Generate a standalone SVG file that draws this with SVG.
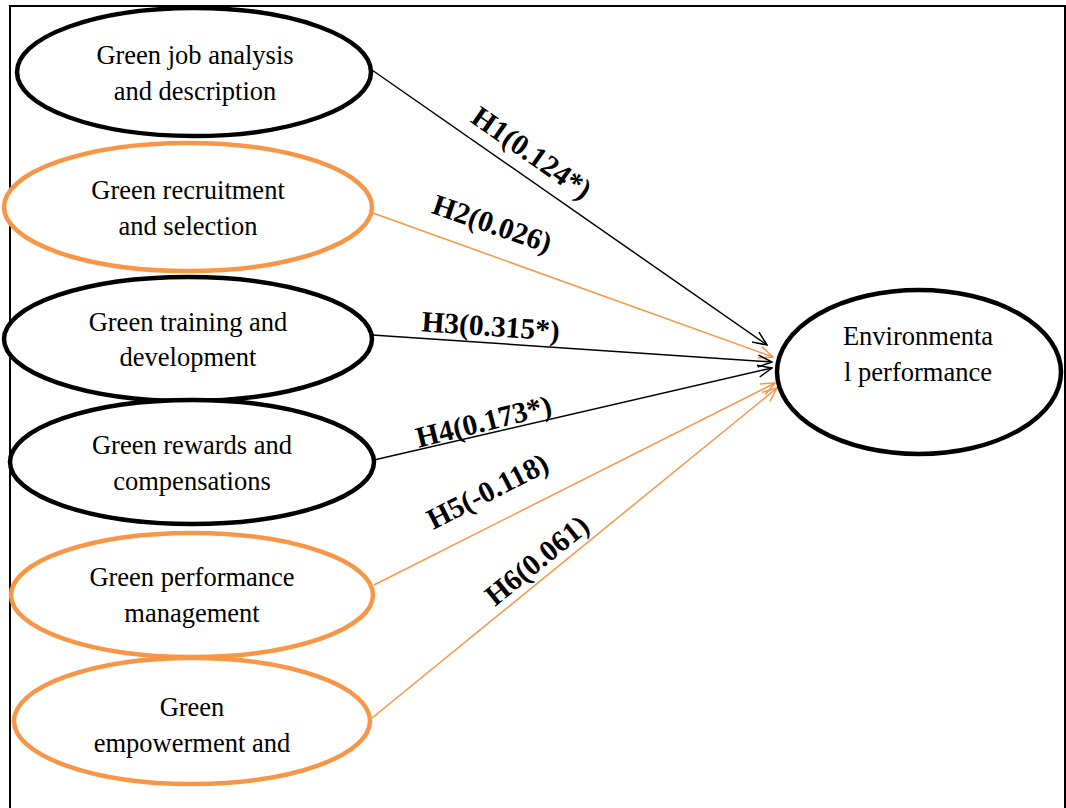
<svg xmlns="http://www.w3.org/2000/svg" width="1066" height="808" viewBox="0 0 1066 808">
<defs>
<style>
.bk{fill:#fff;stroke:#000;stroke-width:4.5}
.or{fill:#fff;stroke:#f79646;stroke-width:4.5}
.t{font-family:'Liberation Serif','Times New Roman',Tinos,'DejaVu Serif',serif;font-size:26.5px;fill:#000;text-anchor:middle}
.lb{font-family:'Liberation Serif','Times New Roman',Tinos,'DejaVu Serif',serif;font-size:29.5px;font-weight:bold;fill:#000;text-anchor:middle}
.cb{stroke:#000;stroke-width:1.5;fill:none}
.co{stroke:#f79646;stroke-width:1.5;fill:none}
</style>
<marker id="ab" markerWidth="16" markerHeight="14" refX="15" refY="7" orient="auto" markerUnits="userSpaceOnUse"><path d="M1,1 L15,7 L1,13" fill="none" stroke="#000" stroke-width="1.5"/></marker>
<marker id="ao" markerWidth="16" markerHeight="14" refX="15" refY="7" orient="auto" markerUnits="userSpaceOnUse"><path d="M1,1 L15,7 L1,13" fill="none" stroke="#f79646" stroke-width="1.5"/></marker>
</defs>
<rect x="0" y="0" width="1066" height="808" fill="#fff"/>
<path d="M10,810 L10,6 L1065,6 L1065,810" fill="none" stroke="#000" stroke-width="2"/>
<g id="connectors">
<line class="cb" x1="372" y1="70" x2="767" y2="345" marker-end="url(#ab)"/>
<line class="co" x1="373" y1="213" x2="773" y2="357" marker-end="url(#ao)"/>
<line class="cb" x1="372" y1="335" x2="772" y2="362" marker-end="url(#ab)"/>
<line class="cb" x1="374" y1="460" x2="772" y2="368" marker-end="url(#ab)"/>
<line class="co" x1="374" y1="585" x2="775" y2="383" marker-end="url(#ao)"/>
<line class="co" x1="372" y1="718" x2="777" y2="388" marker-end="url(#ao)"/>
<text class="lb" transform="translate(526,161) rotate(35)">H1(0.124*)</text>
<text class="lb" transform="translate(489,233) rotate(19)">H2(0.026)</text>
<text class="lb" transform="translate(490,336) rotate(4)">H3(0.315*)</text>
<text class="lb" transform="translate(486,431) rotate(-14)">H4(0.173*)</text>
<text class="lb" transform="translate(492,500) rotate(-27)">H5(-0.118)</text>
<text class="lb" transform="translate(543,568) rotate(-39)">H6(0.061)</text>
</g>
<g id="n1"><ellipse class="bk" cx="194" cy="72" rx="177" ry="64"/><text class="t" x="195" y="64">Green job analysis</text><text class="t" x="195" y="100">and description</text></g>
<g id="n2"><ellipse class="or" cx="188" cy="207" rx="184" ry="64"/><text class="t" x="188" y="199">Green recruitment</text><text class="t" x="188" y="235">and selection</text></g>
<g id="n3"><ellipse class="bk" cx="188" cy="339" rx="184" ry="62"/><text class="t" x="188" y="331">Green training and</text><text class="t" x="188" y="366">development</text></g>
<g id="n4"><ellipse class="bk" cx="192" cy="462" rx="182" ry="62"/><text class="t" x="192" y="454">Green rewards and</text><text class="t" x="192" y="490">compensations</text></g>
<g id="n5"><ellipse class="or" cx="192" cy="595" rx="181" ry="62"/><text class="t" x="192" y="586">Green performance</text><text class="t" x="192" y="622">management</text></g>
<g id="n6"><ellipse class="or" cx="192" cy="721" rx="178" ry="63"/><text class="t" x="192" y="716">Green</text><text class="t" x="192" y="752">empowerment and</text></g>
<g id="n7"><ellipse class="bk" cx="919" cy="372" rx="142" ry="82"/><text class="t" x="918" y="345">Environmenta</text><text class="t" x="918" y="381">l performance</text></g>
</svg>
